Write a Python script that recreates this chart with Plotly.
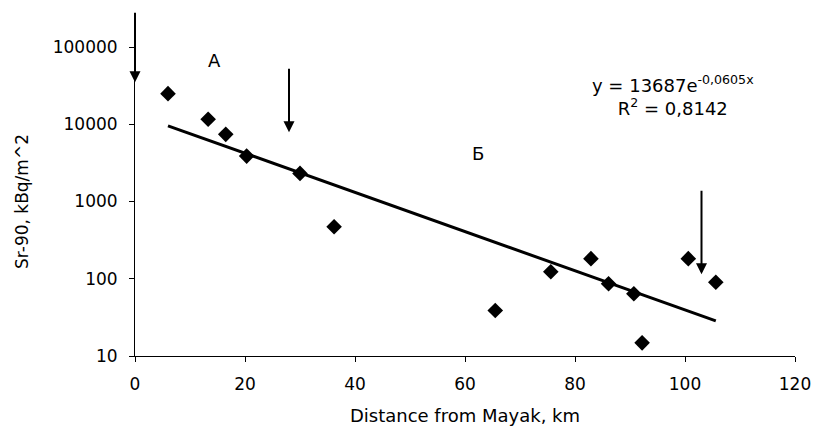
import numpy as np
import plotly.graph_objects as go

# Data
distance_km = [6.0, 13.3, 16.5, 20.3, 30.0, 36.2, 65.5, 75.6, 82.9, 86.1, 90.7, 92.2, 100.6, 105.6]
sr90_kbq_m2 = [24900, 11600, 7400, 3870, 2310, 472, 38.8, 123, 182, 86, 64, 14.8, 182, 90]

x_ticks = [0, 20, 40, 60, 80, 100, 120]
y_ticks = [10, 100, 1000, 10000, 100000]
y_tick_text = ["10", "100", "1000", "10000", "100000"]

equation_text = "y = 13687e<sup>-0,0605x</sup>"
r2_text = "R<sup>2</sup> = 0,8142"

# Exponential trend (least squares fit of log values, as Excel does)
coef = np.polyfit(np.array(distance_km), np.log(np.array(sr90_kbq_m2)), 1)
trend_x = np.linspace(min(distance_km), max(distance_km), 60)
trend_y = np.exp(coef[1] + coef[0] * trend_x)

FONT = "DejaVu Sans, Liberation Sans, Arial, sans-serif"

fig = go.Figure()
fig.add_trace(go.Scatter(x=trend_x, y=trend_y, mode="lines",
                         line=dict(color="black", width=3), hoverinfo="skip"))
fig.add_trace(go.Scatter(x=distance_km, y=sr90_kbq_m2, mode="markers",
                         marker=dict(symbol="diamond", size=12, color="black")))

annotations = []
# arrows: (x, y tip, length in px)
for ax_x, tip_y, length in [(0, 34900, 71), (28, 7850, 65), (103, 114, 85)]:
    annotations.append(dict(x=ax_x, y=np.log10(tip_y), xref="x", yref="y", text="",
                            showarrow=True, arrowhead=2, arrowsize=1.1, arrowwidth=2,
                            arrowcolor="black", ax=0, ay=-length))
annotations += [
    dict(x=14.5, y=np.log10(67000), xref="x", yref="y", text="А", showarrow=False,
         font=dict(size=18, color="black", family=FONT)),
    dict(x=62.4, y=np.log10(4200), xref="x", yref="y", text="Б", showarrow=False,
         font=dict(size=18, color="black", family=FONT)),
    dict(x=97.8, y=np.log10(23500), xref="x", yref="y",
         text=equation_text + "<br>" + r2_text, align="center", showarrow=False,
         font=dict(size=18, color="black", family=FONT)),
]

fig.update_layout(
    width=840, height=426,
    margin=dict(l=127, r=53, t=39, b=78),
    paper_bgcolor="white", plot_bgcolor="white",
    showlegend=False,
    font=dict(family=FONT, size=17, color="black"),
    annotations=annotations,
)
fig.update_xaxes(range=[0, 120], tickvals=x_ticks, showgrid=False, zeroline=False,
                 showline=True, linecolor="black", linewidth=1,
                 ticks="outside", ticklen=5, tickcolor="black",
                 ticklabelstandoff=8, automargin=False,
                 title=dict(text="Distance from Mayak, km", standoff=15,
                            font=dict(size=18)))
fig.update_yaxes(type="log", range=[1, 5], tickvals=y_ticks, ticktext=y_tick_text,
                 showgrid=False, zeroline=False,
                 showline=True, linecolor="black", linewidth=1,
                 ticks="outside", ticklen=5, tickcolor="black",
                 ticklabelstandoff=8, automargin=False,
                 title=dict(text="Sr-90, kBq/m^2", standoff=19, font=dict(size=17)))

fig.write_html("out.html")
